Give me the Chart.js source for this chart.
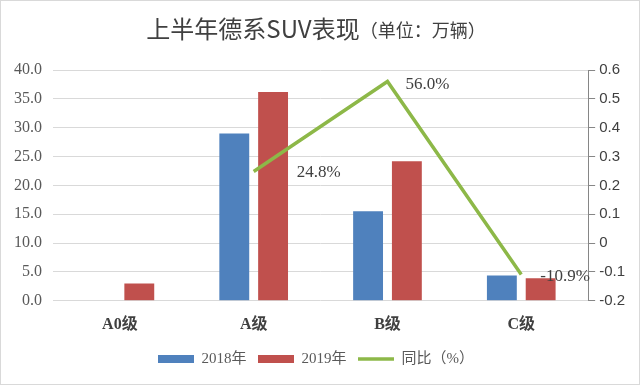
<!DOCTYPE html>
<html>
<head>
<meta charset="utf-8">
<script src="https://cdn.jsdelivr.net/npm/chart.js@4/dist/chart.umd.min.js"></script>
<style>
html,body{margin:0;padding:0;background:#fff;}
canvas{display:block;}
</style>
</head>
<body>
<canvas id="c" width="640" height="385"></canvas>
<script>
const categories = ['A0级', 'A级', 'B级', 'C级'];
const sales2018 = [0, 29.0, 15.5, 4.4];
const sales2019 = [3.0, 36.2, 24.2, 3.9];
const yoy = [null, 0.248, 0.560, -0.109];
const seriesNames = ['2018年', '2019年', '同比（%）'];
const titleMain = '上半年德系SUV表现';
const titleSub = '（单位：万辆）';

const SERIF = "'Liberation Serif', 'Noto Sans CJK SC', serif";
const SANS = "'Noto Sans CJK SC', 'Noto Sans', sans-serif";
const ARIAL = "'Liberation Sans', Arial, sans-serif";
const labelShift = [[0,0],[43,1],[18,3],[19,2]];

const framePlugin = {
  id: 'frame',
  beforeDraw(chart) {
    const ctx = chart.ctx;
    ctx.save();
    ctx.fillStyle = '#fff';
    ctx.fillRect(0, 0, chart.width, chart.height);
    ctx.strokeStyle = '#d9d9d9';
    ctx.lineWidth = 1;
    ctx.strokeRect(0.5, 0.5, chart.width - 1, chart.height - 1);
    ctx.restore();
  },
  afterDraw(chart) {
    const ctx = chart.ctx;
    ctx.save();
    ctx.textBaseline = 'middle';
    ctx.fillStyle = '#404040';
    const f1 = "24px " + SANS;
    const f2 = "18px " + SANS;
    ctx.font = f1;
    const w1 = ctx.measureText(titleMain).width;
    ctx.font = f2;
    const w2 = ctx.measureText(titleSub).width;
    const x0 = 316 - (w1 + w2) / 2;
    ctx.textAlign = 'left';
    ctx.font = f1;
    ctx.fillText(titleMain, x0, 29);
    ctx.font = f2;
    ctx.fillText(titleSub, x0 + w1, 30);
    ctx.restore();
  }
};

const lineLabelPlugin = {
  id: 'lineLabels',
  afterDatasetsDraw(chart) {
    const ctx = chart.ctx;
    const meta = chart.getDatasetMeta(2);
    ctx.save();
    ctx.font = "17px " + SERIF;
    ctx.fillStyle = '#404040';
    ctx.textAlign = 'left';
    ctx.textBaseline = 'middle';
    meta.data.forEach((pt, i) => {
      const v = yoy[i];
      if (v === null || v === undefined) return;
      const s = (v * 100).toFixed(1) + '%';
      ctx.fillText(s, pt.x + labelShift[i][0], pt.y + labelShift[i][1]);
    });
    ctx.restore();
  }
};

new Chart(document.getElementById('c'), {
  data: {
    labels: categories,
    datasets: [
      { type: 'bar', label: seriesNames[0], data: sales2018, backgroundColor: '#4F81BD', borderWidth: 0, pointStyle: 'rect', yAxisID: 'y', order: 1 },
      { type: 'bar', label: seriesNames[1], data: sales2019, backgroundColor: '#C0504D', borderWidth: 0, pointStyle: 'rect', yAxisID: 'y', order: 1 },
      { type: 'line', label: seriesNames[2], data: yoy, borderColor: '#8DB848', backgroundColor: '#8DB848', borderWidth: 3.5, pointRadius: 0, pointStyle: 'line', tension: 0, spanGaps: false, yAxisID: 'y1', order: -1 }
    ]
  },
  options: {
    responsive: false,
    animation: false,
    devicePixelRatio: 1,
    layout: { padding: { top: 70, left: 3, right: 11, bottom: 8.5 } },
    datasets: { bar: { categoryPercentage: 0.58, barPercentage: 0.77 } },
    plugins: {
      title: { display: false },
      tooltip: { enabled: false },
      legend: {
        position: 'bottom',
        labels: {
          usePointStyle: true,
          pointStyleWidth: 36,
          boxHeight: 8,
          padding: 11.5,
          color: '#595959',
          font: { family: SERIF, size: 15 },
          sort: (a, b) => a.datasetIndex - b.datasetIndex
        }
      }
    },
    scales: {
      x: {
        grid: { display: false },
        border: { display: false },
        ticks: { color: '#404040', padding: 6, font: { family: SERIF, size: 16, weight: 'bold' } }
      },
      y: {
        position: 'left',
        min: 0, max: 40,
        grid: { color: '#d9d9d9', lineWidth: 1, drawTicks: false },
        border: { display: false },
        ticks: { stepSize: 5, padding: 11, color: '#595959', font: { family: SERIF, size: 16 }, callback: v => v.toFixed(1) }
      },
      y1: {
        position: 'right',
        min: -0.2, max: 0.6,
        grid: { drawOnChartArea: false, drawTicks: true, tickLength: 7, color: '#868686' },
        border: { display: true, color: '#868686' },
        ticks: { stepSize: 0.1, padding: 4, color: '#404040', font: { family: ARIAL, size: 15 }, callback: v => String(Number(v.toFixed(1))) }
      }
    }
  },
  plugins: [framePlugin, lineLabelPlugin]
});
</script>
</body>
</html>
